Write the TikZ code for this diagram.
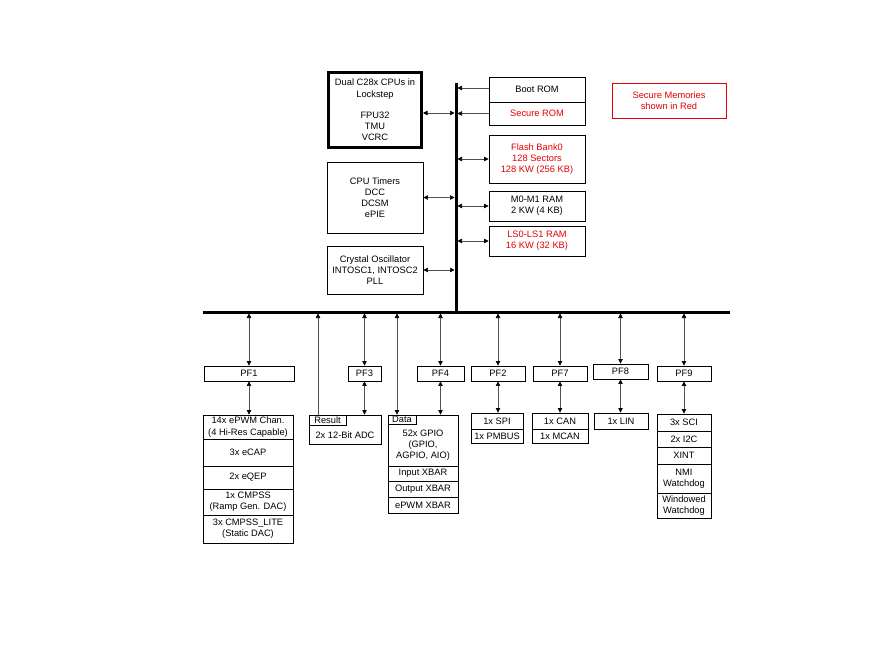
\documentclass[tikz,border=0pt]{standalone}
\usepackage{fontspec}
\setmainfont{Liberation Sans}
\usetikzlibrary{arrows.meta}
\definecolor{secred}{RGB}{228,0,0}
\definecolor{connc}{RGB}{80,80,80}
\begin{document}
\begin{tikzpicture}[x=1pt,y=-1pt,
  box/.style={draw=black, line width=0.9pt, inner sep=0pt, align=center, font=\fontsize{9.3}{11.2}\selectfont},
  sz/.style 2 args={minimum width=#1pt, minimum height=#2pt},
  txt/.style={inner sep=0pt, align=center, font=\fontsize{9.3}{11.2}\selectfont},
  red/.style={text=secred},
  bus/.style={line width=3pt, draw=black},
  dbl/.style={draw=connc, line width=0.7pt, {Triangle[length=4.5pt,width=4.5pt,color=black]}-{Triangle[length=4.5pt,width=4.5pt,color=black]}},
  one/.style={draw=connc, line width=0.7pt, -{Triangle[length=4.5pt,width=4.5pt,color=black]}}
]
\fill[white] (0,0) rectangle (881,645);
\useasboundingbox (0,0) rectangle (881,645);

% buses
\coordinate (vtop) at (456,83);
\coordinate (vbot) at (456,312);
\coordinate (hl) at (203,312);
\coordinate (hr) at (730,312);
\draw[bus] (vtop) -- (vbot);
\draw[bus] (hl) -- (hr);

% left-top blocks
\node[box, line width=3pt, sz={93}{75}] (cpu) at (375,110) {Dual C28x CPUs in\\Lockstep\\[10pt]FPU32\\TMU\\VCRC};
\node[box, sz={96}{71}] (timers) at (375,197.5) {CPU Timers\\DCC\\DCSM\\ePIE};
\node[box, sz={96}{48}] (xtal) at (375,270) {Crystal Oscillator\\INTOSC1, INTOSC2\\PLL};

% right-top memories
\node[box, sz={96}{25}] (bootrom) at (537,89.5) {Boot ROM};
\node[box, red, sz={96}{23}] (securerom) at (537,113.5) {Secure ROM};
\node[box, red, sz={96}{48}] (flash) at (537,159) {Flash Bank0\\128 Sectors\\128 KW (256 KB)};
\node[box, sz={96}{30}] (m0m1) at (537,206) {M0-M1 RAM\\2 KW (4 KB)};
\node[box, red, sz={96}{30}] (ls) at (537,241) {LS0-LS1 RAM\\16 KW (32 KB)};

% legend
\node[box, draw=secred, line width=1pt, red, sz={114}{35}] (legend) at (669,100.5) {Secure Memories\\shown in Red};

% top connectors
\draw[dbl, shorten >=1.5pt] ([yshift=-3pt]cpu.east) -- ([yshift=-3pt]cpu.east -| vtop);
\draw[dbl, shorten >=1.5pt] (timers.east) -- (timers.east -| vtop);
\draw[dbl, shorten >=1.5pt] (xtal.east) -- (xtal.east -| vtop);
\draw[one, shorten >=1.5pt] ([yshift=1.5pt]bootrom.west) -- ([yshift=1.5pt]bootrom.west -| vtop);
\draw[one, shorten >=1.5pt] (securerom.west) -- (securerom.west -| vtop);
\draw[dbl, shorten >=1.5pt] (flash.west) -- (flash.west -| vtop);
\draw[dbl, shorten >=1.5pt] (m0m1.west) -- (m0m1.west -| vtop);
\draw[dbl, shorten >=1.5pt] (ls.west) -- (ls.west -| vtop);

% PF bridges
\node[box, sz={90}{15}] (pf1) at (249,373.5) {PF1};
\node[box, sz={33}{15}] (pf3) at (364.5,373.5) {PF3};
\node[box, sz={47}{15}] (pf4) at (440.5,373.5) {PF4};
\node[box, sz={54}{15}] (pf2) at (498,373.5) {PF2};
\node[box, sz={54}{15}] (pf7) at (560,373.5) {PF7};
\node[box, sz={55}{15}] (pf8) at (620.5,371.5) {PF8};
\node[box, sz={54}{15}] (pf9) at (684,373.5) {PF9};

% ePWM stack
\node[box, sz={90}{24}] (e1) at (248,427) {14x ePWM Chan.\\(4 Hi-Res Capable)};
\node[box, sz={90}{27}] (e2) at (248,452.5) {3x eCAP};
\node[box, sz={90}{23}] (e3) at (248,477.5) {2x eQEP};
\node[box, sz={90}{26}] (e4) at (248,502) {1x CMPSS\\(Ramp Gen. DAC)};
\node[box, sz={90}{28}] (e5) at (248,529) {3x CMPSS\_LITE\\(Static DAC)};

% ADC
\node[box, sz={72}{29}] (adc) at (345,429.5) {};
\node[txt] (adctxt) at (345,435.5) {2x 12-Bit ADC};
\node[box, sz={37}{10}] (result) at (327.5,420) {Result};

% GPIO stack
\node[box, sz={70}{51}] (g1) at (423,440.5) {};
\node[txt] (g1txt) at (423,445) {52x GPIO\\(GPIO,\\AGPIO, AIO)};
\node[box, sz={28}{9}] (data) at (402,419.5) {Data};
\node[box, sz={70}{15}] (g2) at (423,473.5) {Input XBAR};
\node[box, sz={70}{16}] (g3) at (423,489) {Output XBAR};
\node[box, sz={70}{16}] (g4) at (423,505) {ePWM XBAR};

% SPI stack
\node[box, sz={52}{16}] (s1) at (497,421) {1x SPI};
\node[box, sz={52}{14}] (s2) at (497,436) {1x PMBUS};

% CAN stack
\node[box, sz={56}{16}] (c1) at (560,421) {1x CAN};
\node[box, sz={56}{14}] (c2) at (560,436) {1x MCAN};

% LIN
\node[box, sz={54}{16}] (lin) at (621,421) {1x LIN};

% SCI stack
\node[box, sz={54}{17}] (k1) at (684,422.5) {3x SCI};
\node[box, sz={54}{16}] (k2) at (684,439) {2x I2C};
\node[box, sz={54}{17}] (k3) at (684,455.5) {XINT};
\node[box, sz={54}{29}] (k4) at (684,478.5) {NMI\\Watchdog};
\node[box, sz={54}{25}] (k5) at (684,505.5) {Windowed\\Watchdog};

% bus to PF connectors
\foreach \p in {pf1,pf3,pf4,pf2,pf7,pf8,pf9}{
  \draw[dbl, shorten <=1.5pt] (\p.north |- hr) -- (\p.north);
}
% PF to peripherals
\draw[dbl] (pf1.south) -- (pf1.south |- e1.north);
\draw[dbl] (pf3.south) -- (pf3.south |- adc.north);
\draw[dbl] (pf4.south) -- (pf4.south |- g1.north);
\draw[dbl] (pf2.south) -- (pf2.south |- s1.north);
\draw[dbl] (pf7.south) -- (pf7.south |- c1.north);
\draw[dbl] (pf8.south) -- (pf8.south |- lin.north);
\draw[dbl] (pf9.south) -- (pf9.south |- k1.north);

% direct ADC result and GPIO data lines
\draw[one, shorten >=1.5pt] ([xshift=-9.5pt]result.north) -- ([xshift=-9.5pt]result.north |- hr);
\draw[dbl, shorten <=1.5pt] ([xshift=-5pt]data.north |- hr) -- ([xshift=-5pt]data.north);
\end{tikzpicture}
\end{document}
